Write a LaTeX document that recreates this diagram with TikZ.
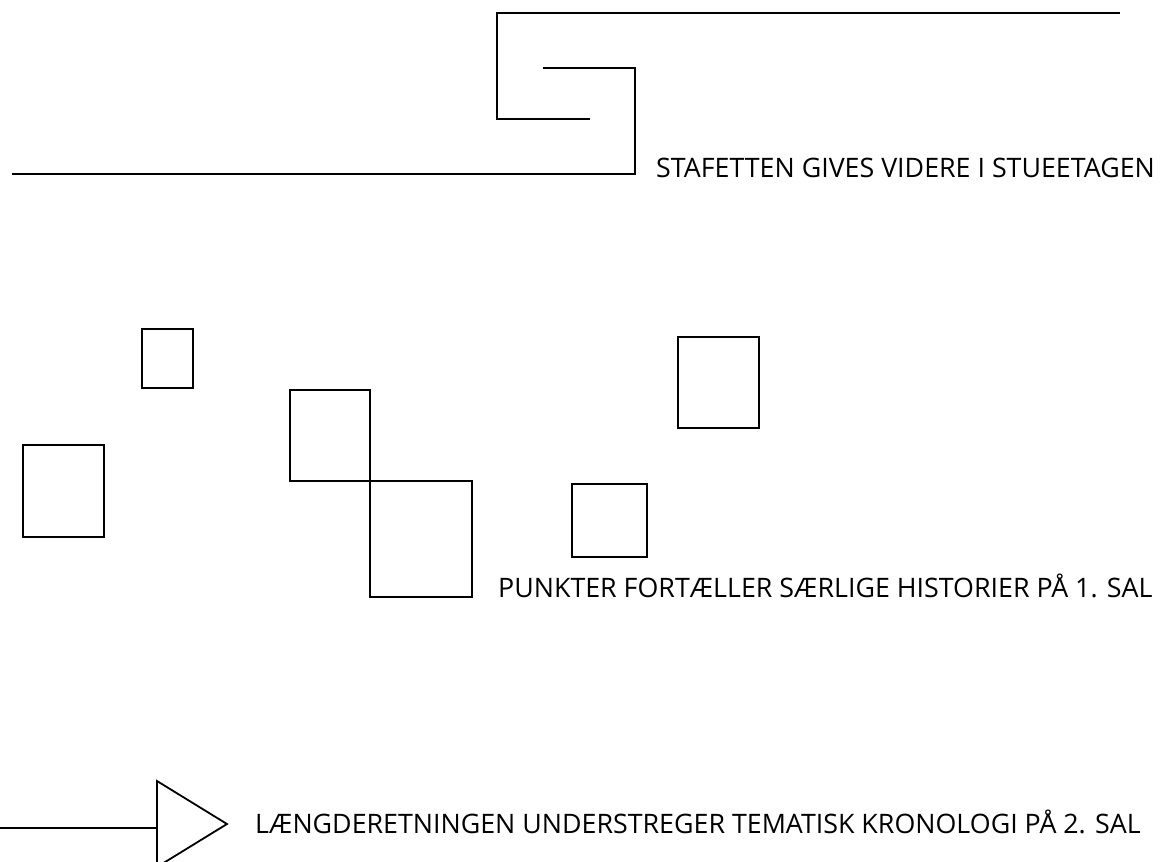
\documentclass[tikz,border=0pt]{standalone}
\usepackage{fontspec}
\setmainfont{Open Sans}
\usepackage{tikz}
\usetikzlibrary{calc}
\tikzstyle{tsLine} = [
    draw=black,
    line width=1.8pt
]
\tikzstyle{tsLabel} = [
    text=black,
    font=\fontsize{26.8}{30}\selectfont,
    anchor=base west,
    inner sep=0pt
]

\begin{document}
\begin{tikzpicture}[x=1pt, y=-1pt]

        \useasboundingbox (0,0) rectangle (1176,862);

        % stafet
        \draw[tsLine] (1120,13) -- (497,13) -- (497,119) -- (590,119);
        \draw[tsLine] (543,68) -- (635,68) -- (635,174) -- (12,174);
        \node[tsLabel] (stafet) at (656,177) {STAFETTEN GIVES VIDERE I STUEETAGEN};

        % punkter
        \draw[tsLine] (23,445) rectangle (104,537);
        \draw[tsLine] (142,329) rectangle (193,388);
        \draw[tsLine] (290,390) rectangle (370,481);
        \draw[tsLine] (370,481) rectangle (472,597);
        \draw[tsLine] (572,484) rectangle (647,557);
        \draw[tsLine] (678,337) rectangle (759,428);
        \node[tsLabel] (punkter) at (498,597) {PUNKTER FORTÆLLER SÆRLIGE HISTORIER PÅ 1. SAL};

        % retning
        \draw[tsLine] (0,828) -- (157,828);
        \draw[tsLine] (157,781) -- (227,824) -- (157,867) -- cycle;
        \node[tsLabel] (retning) at (255,833) {LÆNGDERETNINGEN UNDERSTREGER TEMATISK KRONOLOGI PÅ 2. SAL};

\end{tikzpicture}
\end{document}
